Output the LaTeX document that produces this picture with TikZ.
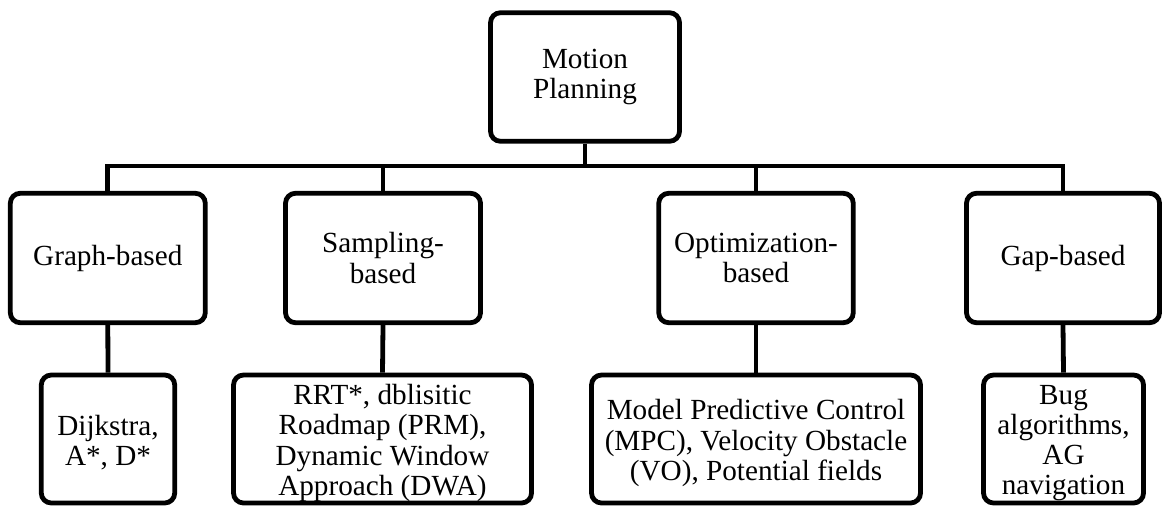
\documentclass[tikz,border=0pt]{standalone}
\usepackage{fontspec}
\setmainfont{Liberation Serif}
\begin{document}
\begin{tikzpicture}[x=0.75pt,y=-0.75pt,
  txt/.style={inner sep=0pt, align=center, font=\fontsize{21.9}{22.6}\selectfont},
  box/.style={txt, draw=black, line width=3.6pt, rounded corners=7.5pt, fill=white},
  link/.style={draw=black, line width=3.6pt, line join=miter}]
\useasboundingbox (0,0) rectangle (1162,506);

% root
\node[box, minimum width=141.75pt, minimum height=96.4pt] (root) at (585,77) {Motion\\Planning};

% families
\node[box, minimum width=146.25pt, minimum height=97.1pt] (graph) at (107.8,258) {Graph-based};
\node[box, minimum width=146.25pt, minimum height=97.1pt] (samp)  at (383,258) {Sampling-\\based};
\node[box, minimum width=145.9pt, minimum height=97.1pt] (optim) at (756,258) {Optimization-\\based};
\node[box, minimum width=144.75pt, minimum height=97.1pt] (gap)   at (1063,258) {Gap-based};

% examples: frames first, then their text set a little below centre
\node[box, minimum width=100.1pt, minimum height=96pt] (dij) at (108,439) {};
\node[box, minimum width=223.5pt, minimum height=96pt] (rrt) at (382.5,439) {};
\node[box, minimum width=246.75pt, minimum height=96pt] (mpc) at (756,439) {};
\node[box, minimum width=120pt, minimum height=96pt] (bug) at (1063.5,439) {};

\node[txt] (dijT) at ([yshift=-3pt]dij.center) {Dijkstra,\\A*, D*};
\node[txt] (rrtT) at ([yshift=-3pt]rrt.center) {RRT*, dblisitic\\Roadmap (PRM),\\Dynamic Window\\Approach (DWA)};
\node[txt] (mpcT) at ([yshift=-3pt]mpc.center) {Model Predictive Control\\(MPC), Velocity Obstacle\\(VO), Potential fields};
\node[txt] (bugT) at ([yshift=-3pt]bug.center) {Bug\\algorithms,\\AG\\navigation};

% tree connectors
\coordinate (bus) at (585,166);
\draw[link] (root.south) -- (bus);
\draw[link] (graph.north) |- (bus) -| (gap.north);
\draw[link] (samp.north) -- (samp.north |- bus);
\draw[link] (optim.north) -- (optim.north |- bus);
\draw[link] (graph.south) -- (dij.north);
\draw[link] (samp.south) -- (rrt.north);
\draw[link] (optim.south) -- (mpc.north);
\draw[link] (gap.south) -- (bug.north);
\end{tikzpicture}
\end{document}
